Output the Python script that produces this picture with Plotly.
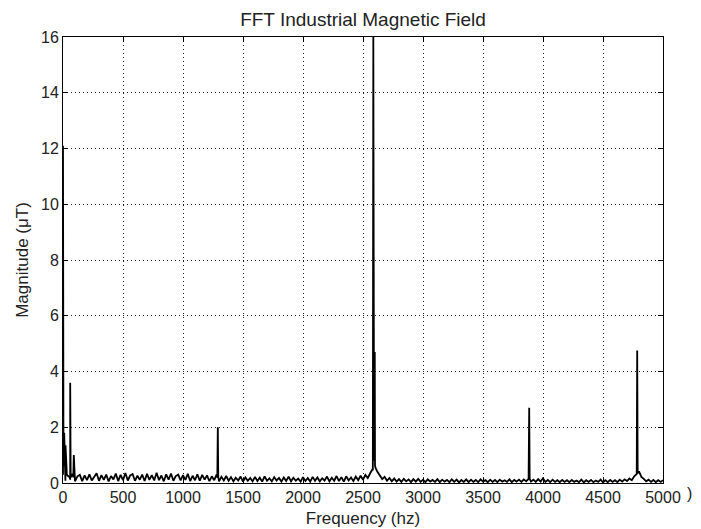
import plotly.graph_objects as go

# ---- data ----
noise_step_hz = 20
noise_mag = [
    0.30, 0.08, 0.26, 0.12, 0.33, 0.06, 0.24, 0.29, 0.07, 0.27,
    0.10, 0.31, 0.09, 0.22, 0.35, 0.08, 0.28, 0.11, 0.30, 0.06,
    0.25, 0.13, 0.34, 0.07, 0.29, 0.10, 0.36, 0.09, 0.27, 0.32,
    0.08, 0.26, 0.12, 0.30, 0.07, 0.33, 0.11, 0.28, 0.09, 0.37,
    0.10, 0.27, 0.06, 0.31, 0.12, 0.34, 0.08, 0.25, 0.30, 0.09,
    0.28, 0.11, 0.33, 0.07, 0.26, 0.10, 0.31, 0.08, 0.29, 0.12,
    0.27, 0.07, 0.24, 0.10, 0.30, 0.06, 0.22, 0.09, 0.25, 0.08,
    0.21, 0.06, 0.19, 0.09, 0.23, 0.05, 0.20, 0.08, 0.18, 0.06,
    0.22, 0.07, 0.19, 0.05, 0.24, 0.08, 0.17, 0.06, 0.21, 0.09,
    0.18, 0.05, 0.20, 0.07, 0.23, 0.06, 0.19, 0.08, 0.16, 0.05,
    0.21, 0.07, 0.18, 0.05, 0.22, 0.08, 0.20, 0.06, 0.17, 0.09,
    0.23, 0.06, 0.19, 0.08, 0.25, 0.07, 0.21, 0.05, 0.24, 0.09,
    0.20, 0.07, 0.23, 0.10, 0.26, 0.12, 0.29, 0.18, 0.35, 0.50,
    0.62, 0.40, 0.28, 0.14, 0.22, 0.08, 0.18, 0.06, 0.16, 0.05,
    0.14, 0.04, 0.15, 0.06, 0.13, 0.03, 0.14, 0.05, 0.15, 0.04,
    0.12, 0.03, 0.13, 0.05, 0.11, 0.04, 0.14, 0.03, 0.12, 0.05,
    0.11, 0.03, 0.13, 0.04, 0.12, 0.02, 0.11, 0.04, 0.13, 0.03,
    0.12, 0.04, 0.11, 0.03, 0.13, 0.05, 0.10, 0.03, 0.12, 0.04,
    0.11, 0.03, 0.12, 0.05, 0.10, 0.04, 0.13, 0.03, 0.11, 0.05,
    0.12, 0.04, 0.13, 0.06, 0.15, 0.05, 0.12, 0.04, 0.14, 0.05,
    0.17, 0.04, 0.11, 0.03, 0.12, 0.04, 0.10, 0.03, 0.11, 0.04,
    0.10, 0.03, 0.11, 0.04, 0.09, 0.03, 0.12, 0.02, 0.10, 0.04,
    0.11, 0.03, 0.09, 0.04, 0.12, 0.02, 0.10, 0.03, 0.11, 0.04,
    0.10, 0.03, 0.12, 0.05, 0.13, 0.07, 0.16, 0.10, 0.24, 0.32,
    0.42, 0.22, 0.15, 0.06, 0.12, 0.04, 0.11, 0.03, 0.10, 0.04,
    0.10,
]
noise_freq = [i * noise_step_hz for i in range(len(noise_mag))]

spike_freq = [0, 4, 10, 14, 21, 27, 32, 56, 60, 64, 86, 90, 94,
              1286, 1290, 1294,
              2582, 2586, 2592, 2598, 2604,
              3881, 3885, 3889,
              4781, 4785, 4789]
spike_mag = [12.1, 0.6, 1.8, 0.6, 1.35, 0.5, 0.3, 0.2, 3.6, 0.2, 0.2, 1.0, 0.2,
             0.2, 2.0, 0.2,
             0.45, 16.0, 0.8, 4.7, 0.55,
             0.15, 2.7, 0.15,
             0.3, 4.75, 0.35]

x_ticks = [0, 500, 1000, 1500, 2000, 2500, 3000, 3500, 4000, 4500, 5000]
y_ticks = [0, 2, 4, 6, 8, 10, 12, 14, 16]

# merge noise floor and spikes into one spectrum
pairs = sorted(zip(noise_freq + spike_freq, noise_mag + spike_mag))
freq = [p[0] for p in pairs]
mag = [p[1] for p in pairs]

fig = go.Figure()
fig.add_trace(go.Scatter(x=freq, y=mag, mode="lines",
                         line=dict(color="black", width=1.8),
                         showlegend=False, hoverinfo="skip"))

font_family = "Liberation Sans, Arial, sans-serif"
txt = "#222222"
axis_common = dict(
    showline=True, linecolor="black", linewidth=1, mirror="ticks",
    ticks="inside", ticklen=5, tickcolor="black",
    showgrid=True, gridcolor="#222222", gridwidth=1, griddash="1px,3px",
    zeroline=False, automargin=False,
    tickfont=dict(family=font_family, size=16, color=txt),
)

fig.update_layout(
    width=701, height=529,
    margin=dict(l=55, r=46, t=29, b=54),
    paper_bgcolor="white", plot_bgcolor="white",
    title=dict(text="FFT Industrial Magnetic Field", x=0.5, xref="paper",
               y=1 - 11 / 529, yref="container", yanchor="middle",
               font=dict(family=font_family, size=19, color=txt)),
    xaxis=dict(range=[0, 5000], tickvals=x_ticks,
               ticktext=[str(v) for v in x_ticks],
               title=dict(text="Frequency (hz)", standoff=6,
                          font=dict(family=font_family, size=17, color=txt)),
               **axis_common),
    yaxis=dict(range=[0, 16], tickvals=y_ticks,
               ticktext=[str(v) for v in y_ticks],
               title=dict(text="Magnitude (\u03bcT)", standoff=8,
                          font=dict(family=font_family, size=17, color=txt)),
               **axis_common),
    annotations=[dict(text=")", xref="paper", yref="paper", x=1.0, y=0,
                      xshift=31, yshift=-21, showarrow=False,
                      font=dict(family=font_family, size=16, color=txt))],
)

fig.write_html("out.html")
